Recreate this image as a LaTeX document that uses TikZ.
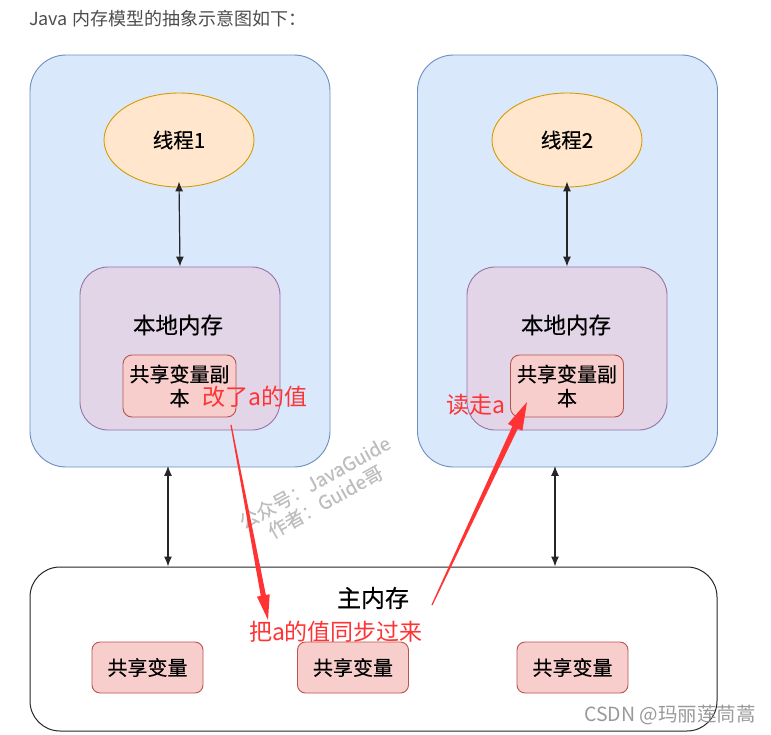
\documentclass[tikz,border=0pt]{standalone}
\usepackage{fontspec}
\setmainfont{Noto Sans CJK SC}
\newfontfamily\lblfont[FakeBold=0.35]{Noto Sans CJK SC}
\usetikzlibrary{shapes.geometric,arrows.meta,calc}
\definecolor{bfill}{HTML}{DAE8FC}
\definecolor{bstroke}{HTML}{6C8EBF}
\definecolor{pfill}{HTML}{E1D5E7}
\definecolor{pstroke}{HTML}{9673A6}
\definecolor{ofill}{HTML}{FFE6CC}
\definecolor{ostroke}{HTML}{D79B00}
\definecolor{rfill}{HTML}{F8CECC}
\definecolor{rstroke}{HTML}{B85450}
\definecolor{redc}{HTML}{FF3333}
\definecolor{titlec}{HTML}{4D4D4D}
\definecolor{wmark}{HTML}{BDBDBD}
\definecolor{csdnc}{HTML}{999999}
\begin{document}
\begin{tikzpicture}[x=1pt,y=-1pt,
  outer/.style={draw=bstroke, fill=bfill, rounded corners=36pt, minimum width=300pt, minimum height=412pt, line width=0.9pt, inner sep=0pt},
  thread/.style={ellipse, draw=ostroke, fill=ofill, minimum width=150pt, minimum height=94pt, line width=0.9pt, font=\lblfont\fontsize{20.5}{22}\selectfont},
  local/.style={draw=pstroke, fill=pfill, rounded corners=28pt, minimum width=200pt, minimum height=163pt, line width=0.9pt, inner sep=0pt},
  loclabel/.style={font=\lblfont\fontsize{22.5}{26}\selectfont},
  copybox/.style={draw=rstroke, fill=rfill, rounded corners=9pt, minimum width=113pt, minimum height=62pt, line width=0.9pt, align=center, inner sep=1pt, font=\lblfont\fontsize{20}{24}\selectfont},
  mainbox/.style={draw=black!85, fill=white, rounded corners=30pt, minimum width=687pt, minimum height=164pt, line width=1pt, inner sep=0pt},
  mainlabel/.style={font=\lblfont\fontsize{24}{28}\selectfont},
  shared/.style={draw=rstroke, fill=rfill, rounded corners=8pt, minimum width=111pt, minimum height=51pt, line width=0.9pt, font=\lblfont\fontsize{20}{24}\selectfont},
  redtxt/.style={text=redc, font=\fontsize{23}{26}\selectfont, inner sep=0pt},
  dbl/.style={{Latex[length=10pt,width=8pt]}-{Latex[length=10pt,width=8pt]}, line width=1.2pt, draw=black!85},
  title/.style={text=titlec, font=\fontsize{18}{20}\selectfont, inner sep=0pt, anchor=west},
  wm/.style={text=wmark, font=\lblfont\fontsize{19}{22}\selectfont, align=center, rotate=29, inner sep=0pt},
  csdn/.style={text=csdnc, font=\fontsize{19.5}{22}\selectfont, inner sep=0pt}
]
\useasboundingbox (0,0) rectangle (771,734);

\node[title] (title) at (29,19) {Java 内存模型的抽象示意图如下：};

% outer boxes
\node[outer] (L) at (180,261) {};
\node[outer] (R) at (567.5,261) {};

% threads
\node[thread] (t1) at (179,140) {线程1};
\node[thread] (t2) at (567,140) {线程2};

% local memories
\node[local] (lm1) at (180,348.5) {};
\node[local] (lm2) at (567,348.5) {};
\node[loclabel] (ll1) at (178,325) {本地内存};
\node[loclabel] (ll2) at (566,325) {本地内存};

% copies
\node[copybox] (c1) at (179.5,386) {共享变量副\\本};
\node[copybox] (c2) at (567,386) {共享变量副\\本};

% thread <-> local
\draw[dbl] ([yshift=6pt]t1.south) -- (lm1.north);
\draw[dbl] ([yshift=6pt]t2.south) -- (lm2.north);

% main memory
\node[mainbox] (M) at (373.5,649) {};
\node[mainlabel] (ml) at (373,598) {主内存};
\node[shared] (s1) at (147.5,667.5) {共享变量};
\node[shared] (s2) at (353,667.5) {共享变量};
\node[shared] (s3) at (572.5,667.5) {共享变量};

% outer <-> main
\coordinate (xa) at (168,0);
\coordinate (xb) at (555,0);
\draw[dbl] ([yshift=1.5pt]L.south -| xa) -- (M.north -| xa);
\draw[dbl] ([yshift=1.5pt]R.south -| xb) -- (M.north -| xb);

% watermark
\node[wm] (wm) at (320,492) {公众号：JavaGuide\\作者：Guide哥};

% red labels
\node[redtxt] (r1) at (255,397) {改了a的值};
\node[redtxt] (r2) at (476,405) {读走a};
\node[redtxt] (r3) at (336,632) {把a的值同步过来};

% tapered red arrows
\coordinate (as1) at (231,425);
\coordinate (at1) at (268,620);
\coordinate (ab1) at ($(at1)!25pt!(as1)$);
\fill[redc] ($(as1)!0.6pt!90:(at1)$) -- ($(ab1)!2.6pt!90:(at1)$) -- ($(ab1)!6.5pt!90:(at1)$) -- (at1)
  -- ($(ab1)!6.5pt!-90:(at1)$) -- ($(ab1)!2.6pt!-90:(at1)$) -- ($(as1)!0.6pt!-90:(at1)$) -- cycle;

\coordinate (as2) at (432,605);
\coordinate (at2) at (527,402);
\coordinate (ab2) at ($(at2)!28pt!(as2)$);
\fill[redc] ($(as2)!0.6pt!90:(at2)$) -- ($(ab2)!3pt!90:(at2)$) -- ($(ab2)!8pt!90:(at2)$) -- (at2)
  -- ($(ab2)!8pt!-90:(at2)$) -- ($(ab2)!3pt!-90:(at2)$) -- ($(as2)!0.6pt!-90:(at2)$) -- cycle;

% csdn mark
\node[csdn] (cs) at (670,715) {CSDN @玛丽莲茼蒿};
\end{tikzpicture}
\end{document}
